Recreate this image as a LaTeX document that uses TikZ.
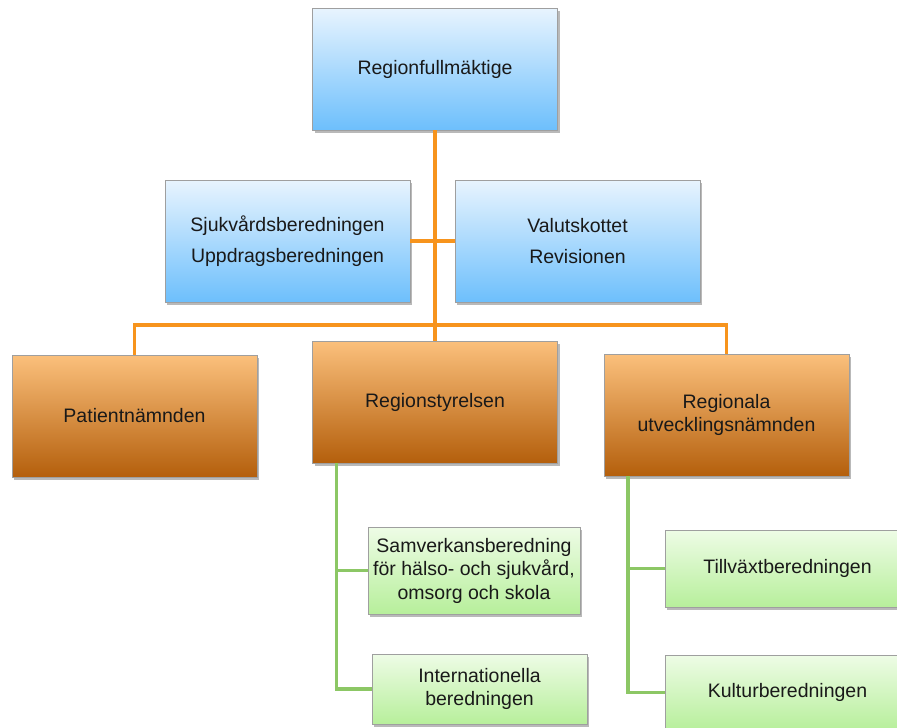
\documentclass[tikz,border=0pt]{standalone}
\usepackage{fontspec}
\setmainfont{Liberation Sans}
\usetikzlibrary{positioning, shadows}
\definecolor{bluetop}{HTML}{E8F4FE}
\definecolor{bluemid}{HTML}{A6D8FD}
\definecolor{bluebot}{HTML}{6DBFFC}
\definecolor{orangetop}{HTML}{FBC07C}
\definecolor{orangemid}{HTML}{F7941D}
\definecolor{orangebot}{HTML}{B45F0C}
\definecolor{greentop}{HTML}{EEFCE6}
\definecolor{greenbot}{HTML}{B7EF9B}
\definecolor{orangeline}{HTML}{F7941D}
\definecolor{greenline}{HTML}{8CC765}
\tikzset{
x=1pt, y=-1pt, % pixel like units, y grows downwards
box/.style={draw=gray!75, align=center, inner sep=0pt, text=black!90,
  font=\fontsize{19.5}{23.5}\selectfont,
  drop shadow={shadow xshift=2pt, shadow yshift=-3pt, opacity=0.55}}, % common box look
bluebox/.style={box, minimum width=245pt, minimum height=122pt,
  font=\fontsize{19.5}{31}\selectfont,
  top color=bluetop, middle color=bluemid, bottom color=bluebot}, % top level
orangebox/.style={box, minimum width=245pt, minimum height=122pt,
  top color=orangetop, middle color=orangemid, bottom color=orangebot}, % boards
greenbox/.style={box, top color=greentop, bottom color=greenbot}, % committees
orangelink/.style={draw=orangeline, line width=3.6pt},
greenlink/.style={draw=greenline, line width=3.6pt},
}
\begin{document}
\begin{tikzpicture}
    \useasboundingbox (0,0) rectangle (897,728);
    \node[bluebox] (rf) at (435,69) {Regionfullmäktige};
    \node[bluebox] (sjuk) at (287.5,241) {Sjukvårdsberedningen\\Uppdragsberedningen};
    \node[bluebox] (valut) at (577.5,241) {Valutskottet\\Revisionen};
    \node[orangebox] (pat) at (134.5,416) {Patientnämnden};
    \node[orangebox] (rs) at (435,402) {Regionstyrelsen};
    \node[orangebox] (ru) at (726.5,415) {Regionala\\utvecklingsnämnden};
    \node[greenbox, minimum width=212pt, minimum height=87pt] (sam) at (474,570.5)
        {Samverkansberedning\\för hälso- och sjukvård,\\omsorg och skola};
    \node[greenbox, minimum width=215pt, minimum height=70pt] (int) at (479.5,689)
        {Internationella\\beredningen};
    \node[greenbox, minimum width=245pt, minimum height=77pt] (till) at (787.5,568.5)
        {Tillväxtberedningen};
    \node[greenbox, minimum width=245pt, minimum height=75pt] (kult) at (787.5,692.5)
        {Kulturberedningen};
    \coordinate (bar) at (435,325);
    \coordinate (gl) at ([xshift=24pt]rs.south west);
    \coordinate (gr) at ([xshift=24pt]ru.south west);
    % orange links
    \draw[orangelink] (rf) -- (rs);
    \draw[orangelink] (sjuk) -- (valut);
    \draw[orangelink] (pat.north) -- (pat.north |- bar) -- (ru.north |- bar) -- (ru.north);
    % green links
    \draw[greenlink] (gl) |- (int.west);
    \draw[greenlink] (gl |- sam.west) -- (sam.west);
    \draw[greenlink] (gr) |- (kult.west);
    \draw[greenlink] (gr |- till.west) -- (till.west);
\end{tikzpicture}
\end{document}
